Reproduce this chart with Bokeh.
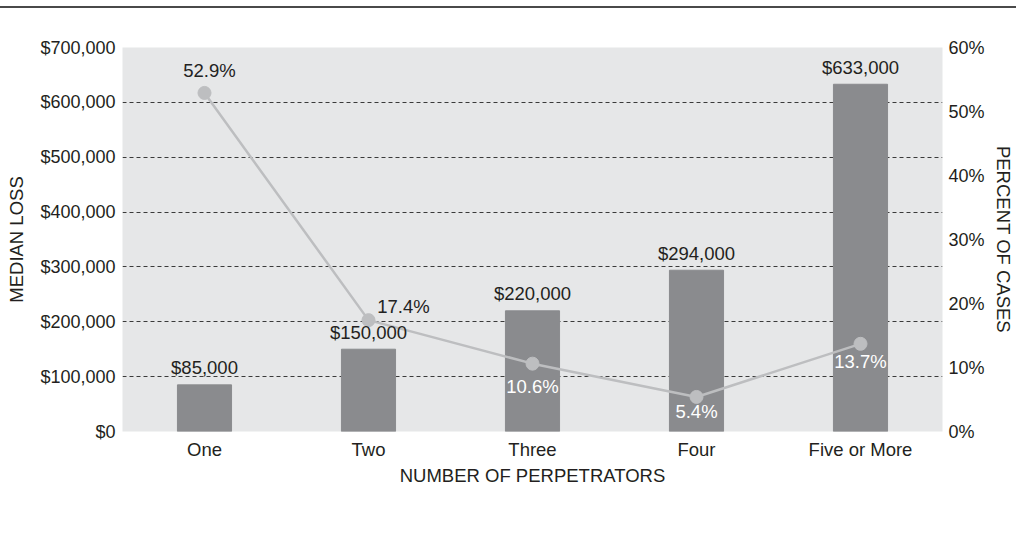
from bokeh.plotting import figure
from bokeh.models import (Range1d, LinearAxis, NumeralTickFormatter, PrintfTickFormatter,
                          Legend, LegendItem, FixedTicker, CDSView, IndexFilter, ColumnDataSource)
from bokeh.core.properties import value
from bokeh.embed import file_html
from bokeh.resources import INLINE

categories = ["One", "Two", "Three", "Four", "Five or More"]
median_loss = [85000, 150000, 220000, 294000, 633000]
percent_cases = [52.9, 17.4, 10.6, 5.4, 13.7]
loss_labels = ["$85,000", "$150,000", "$220,000", "$294,000", "$633,000"]
pct_labels = ["52.9%", "17.4%", "10.6%", "5.4%", "13.7%"]
loss_ticks = [0, 100000, 200000, 300000, 400000, 500000, 600000, 700000]
pct_ticks = [0, 10, 20, 30, 40, 50, 60]

# label styling (offsets in pixels, colours)
pct_label_style = [(5, -22, "#222222"), (35, -14, "#222222"), (0, 23, "#ffffff"),
                   (0, 15, "#ffffff"), (0, 18, "#ffffff")]

FONT = "Liberation Sans"
TXT = "#231f20"
FS = "18.5px"

p = figure(x_range=categories, y_range=Range1d(0, 700000),
           frame_width=820, frame_height=384, width=1016, height=533,
           output_backend="svg", toolbar_location=None,
           min_border_left=122, min_border_right=74, min_border_top=47, min_border_bottom=0)
p.extra_y_ranges = {"pct": Range1d(0, 60)}
p.background_fill_color = "#e6e7e8"
p.border_fill_color = "white"
p.border_fill_alpha = 0
p.outline_line_color = None
p.styles = {"background-color": "white",
            "background-image": "linear-gradient(#4a4a4a, #4a4a4a)",
            "background-size": "100% 2px",
            "background-position": "0px 6px",
            "background-repeat": "no-repeat"}

src = ColumnDataSource(dict(cat=categories, loss=median_loss, pct=percent_cases))
bars = p.vbar(x="cat", top="loss", width=0.33, color="#8a8b8e", source=src)
line = p.line(x="cat", y="pct", y_range_name="pct", line_color="#bdbec0", line_width=2.5, source=src)
dots = p.scatter(x="cat", y="pct", y_range_name="pct", size=13,
                 fill_color="#bdbec0", line_color="#bdbec0", source=src)
# legend key for the bars: a square marker that draws nothing in the plot
bar_key = p.scatter(x="cat", y="loss", marker="square", size=15, fill_color="#8a8b8e",
                    line_color="#8a8b8e", source=src, view=CDSView(filter=IndexFilter([])))

for c, v, lab in zip(categories, median_loss, loss_labels):
    p.text(x=[c], y=[v], text=[lab], text_align="center", text_baseline="middle",
           y_offset=-17, text_font=value(FONT), text_font_size=FS, text_color=TXT)

for c, v, lab, (dx, dy, col) in zip(categories, percent_cases, pct_labels, pct_label_style):
    p.text(x=[c], y=[v], text=[lab], y_range_name="pct", text_align="center",
           text_baseline="middle", x_offset=dx, y_offset=dy, text_font=value(FONT),
           text_font_size=FS, text_color=col)

# axes
p.yaxis.ticker = FixedTicker(ticks=loss_ticks)
p.yaxis.formatter = NumeralTickFormatter(format="$0,0")
p.yaxis.axis_label = "MEDIAN LOSS"
right = LinearAxis(y_range_name="pct", ticker=FixedTicker(ticks=pct_ticks),
                   formatter=PrintfTickFormatter(format="%d%%"), axis_label="PERCENT OF CASES")
p.add_layout(right, "right")
p.xaxis.axis_label = "NUMBER OF PERPETRATORS"

for ax in [p.xaxis[0], p.yaxis[0], right]:
    ax.axis_line_color = None
    ax.major_tick_line_color = None
    ax.minor_tick_line_color = None
    ax.major_tick_out = 0
    ax.major_tick_in = 0
    ax.minor_tick_out = 0
    ax.minor_tick_in = 0
    ax.major_label_text_font = FONT
    ax.major_label_text_font_size = FS
    ax.major_label_text_color = TXT
    ax.axis_label_text_font = FONT
    ax.axis_label_text_font_size = FS
    ax.axis_label_text_font_style = "normal"
    ax.axis_label_text_color = TXT
p.yaxis[0].major_label_text_font_size = "18px"
right.major_label_text_font_size = "18px"
p.yaxis[0].major_label_standoff = 7
p.yaxis[0].axis_label_standoff = 10
right.major_label_standoff = 6
right.axis_label_standoff = 5
p.xaxis[0].major_label_standoff = 7
p.xaxis[0].axis_label_standoff = 2

p.xgrid.grid_line_color = None
p.ygrid.ticker = FixedTicker(ticks=loss_ticks)
p.ygrid.grid_line_color = "#3a3a3a"
p.ygrid.grid_line_dash = "4 3"
p.ygrid.grid_line_width = 1

legend = Legend(items=[LegendItem(label="Median Loss", renderers=[bar_key]),
                       LegendItem(label="Percent of Cases", renderers=[line, dots])],
                location=(451, 6), orientation="horizontal", glyph_width=60,
                glyph_height=28, label_standoff=8, spacing=17, padding=0, margin=6,
                border_line_color=None, background_fill_alpha=0,
                label_text_font=FONT, label_text_font_size=FS, label_text_color=TXT)
p.add_layout(legend, "below")

open("out.html", "w").write(file_html(p, INLINE))
